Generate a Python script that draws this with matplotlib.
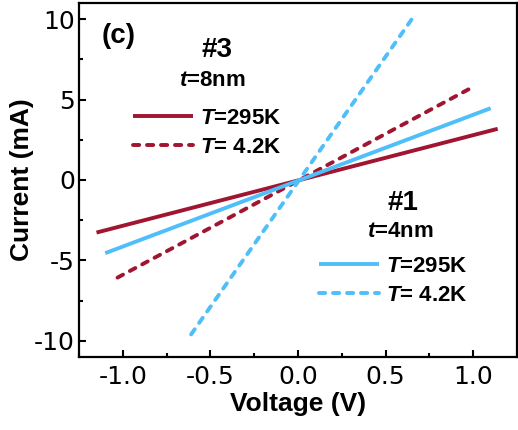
import matplotlib
matplotlib.use('Agg')
import matplotlib.pyplot as plt
from matplotlib.ticker import MultipleLocator, AutoMinorLocator

plt.rcParams['axes.unicode_minus'] = False
plt.rcParams['mathtext.fontset'] = 'custom'
plt.rcParams['mathtext.it'] = 'Liberation Sans:italic:bold'
plt.rcParams['mathtext.rm'] = 'Liberation Sans:bold'

# endpoints of each I-V line (V in volts, I in mA)
v_s3_295 = [-1.15, 1.14]
i_s3_295 = [-3.27, 3.18]
v_s3_42 = [-1.03, 0.99]
i_s3_42 = [-6.07, 5.73]
v_s1_295 = [-1.10, 1.10]
i_s1_295 = [-4.55, 4.46]
v_s1_42 = [-0.61, 0.65]
i_s1_42 = [-9.6, 10.0]

red = '#A0152F'
blue = '#50BEF8'
lw = 2.8

fig = plt.figure(figsize=(5.18, 4.30), dpi=100)
ax = fig.add_axes([0.1525, 0.170, 0.8455, 0.823])

l1, = ax.plot(v_s3_295, i_s3_295, color=red, lw=lw, solid_capstyle='butt')
l2, = ax.plot(v_s3_42, i_s3_42, color=red, lw=lw, dashes=(1.6, 2.0), dash_capstyle='round')
l3, = ax.plot(v_s1_295, i_s1_295, color=blue, lw=lw, solid_capstyle='butt')
l4, = ax.plot(v_s1_42, i_s1_42, color=blue, lw=lw, dashes=(1.6, 2.0), dash_capstyle='round')

ax.set_xlim(-1.25, 1.25)
ax.set_ylim(-11, 11)
ax.xaxis.set_minor_locator(AutoMinorLocator(2))
ax.yaxis.set_minor_locator(AutoMinorLocator(2))
ax.set_xticks([-1.0, -0.5, 0.0, 0.5, 1.0])
ax.set_xticklabels(['-1.0', '-0.5', '0.0', '0.5', '1.0'])
ax.set_yticks([-10, -5, 0, 5, 10])
ax.set_yticklabels(['-10', '-5', '0', '5', '10'])

for s in ax.spines.values():
    s.set_linewidth(1.6)
ax.tick_params(which='major', direction='in', length=5, width=1.5, labelsize=18)
ax.tick_params(which='minor', direction='in', length=3, width=1.5)
ax.tick_params(axis='x', which='major', pad=6)
ax.tick_params(axis='y', which='major', pad=3)
for lab in ax.get_xticklabels() + ax.get_yticklabels():
    lab.set_family('DejaVu Sans')

ax.set_xlabel('Voltage (V)', fontsize=19, fontweight='bold', family='Liberation Sans', labelpad=2)
ax.set_ylabel('Current (mA)', fontsize=19, fontweight='bold', family='Liberation Sans', labelpad=0)

tf = dict(family='Liberation Sans', fontweight='bold', ha='center', va='center', transform=ax.transAxes)
ax.text(0.091, 0.907, '(c)', fontsize=20, **tf)
ax.text(0.315, 0.867, '#3', fontsize=20, **tf)
ax.text(0.304, 0.782, '$t$=8nm', fontsize=16, **tf)
ax.text(0.740, 0.435, '#1', fontsize=20, **tf)
ax.text(0.733, 0.353, '$t$=4nm', fontsize=16, **tf)

lp = dict(frameon=False, loc='upper left', borderpad=0, borderaxespad=0,
          handlelength=2.7, handletextpad=0.3, labelspacing=0.35,
          prop={'family': 'Liberation Sans', 'weight': 'bold', 'size': 16})
leg1 = ax.legend([l1, l2], ['$T$=295K', '$T$= 4.2K'], bbox_to_anchor=(0.123, 0.703), **lp)
ax.add_artist(leg1)
ax.legend([l3, l4], ['$T$=295K', '$T$= 4.2K'], bbox_to_anchor=(0.548, 0.285), **lp)

plt.savefig('out.png', dpi=100)
